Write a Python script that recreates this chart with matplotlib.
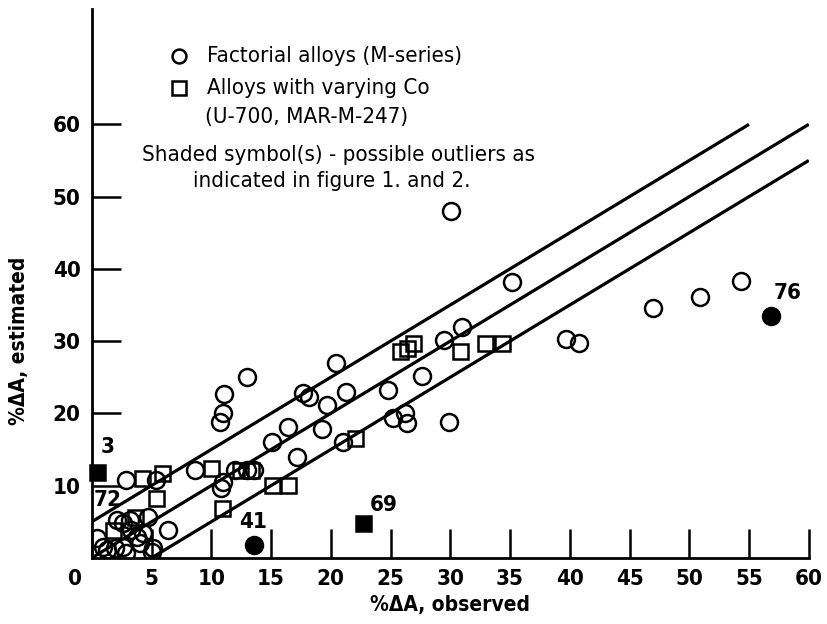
import matplotlib
matplotlib.use("Agg")
import matplotlib.pyplot as plt
from matplotlib.transforms import ScaledTranslation

plt.rcParams["font.family"] = ["DejaVu Sans"]
plt.rcParams["font.stretch"] = "condensed"

# Factorial alloys (M-series): open circles
circ_x = [30.1, 35.2, 47.0, 50.9, 54.3, 39.7, 40.8, 31.0, 29.5, 27.6, 26.2, 26.4,
          25.2, 29.9, 24.8, 20.4, 17.7, 18.2, 21.3, 19.7, 16.4, 19.3, 15.1, 21.0,
          17.2, 13.0, 11.1, 11.0, 10.7, 8.6, 12.0, 13.0, 13.6, 11.0, 10.8, 2.9,
          5.4, 6.4, 0.4, 0.9, 1.3, 2.1, 2.6, 3.3, 3.8, 4.7, 1.9, 2.6, 2.9, 4.0,
          5.1, 5.0, 4.3, 3.2]
circ_y = [48.0, 38.2, 34.6, 36.1, 38.3, 30.3, 29.7, 31.9, 30.1, 25.2, 20.0, 18.6,
          19.4, 18.8, 23.2, 27.0, 22.8, 22.2, 22.9, 21.2, 18.1, 17.9, 16.0, 16.0,
          13.9, 25.0, 22.7, 20.0, 18.8, 12.1, 12.1, 12.1, 12.1, 10.5, 9.6, 10.8,
          10.8, 3.9, 2.8, 1.5, 1.1, 5.2, 4.8, 3.9, 2.9, 5.7, 1.4, 1.5, 0.7, 2.1,
          1.4, 0.8, 3.4, 5.2]

# Alloys with varying Co: open squares
sq_x = [26.9, 25.8, 26.4, 30.8, 32.9, 34.3, 22.0, 10.0, 12.4, 13.3, 15.1, 16.4,
        10.9, 5.4, 4.2, 5.9, 1.8, 3.6]
sq_y = [29.7, 28.6, 29.1, 28.6, 29.7, 29.7, 16.6, 12.4, 12.1, 12.1, 10.1, 10.1,
        6.9, 8.3, 11.0, 11.7, 3.9, 5.7]

# shaded (possible outliers)
out_circ_x = [13.6, 56.8]
out_circ_y = [1.8, 33.5]
out_sq_x = [0.4, 22.7]
out_sq_y = [11.9, 4.8]

# point labels
lab_text = ["3", "72", "41", "69", "76"]
lab_x = [1.3, 1.3, 13.5, 24.4, 58.2]
lab_y = [15.3, 8.0, 5.0, 7.3, 36.7]

# guide lines y = x + offset
line_off = [5, 0, -5]

fig = plt.figure(figsize=(8.27, 6.24), dpi=100)
ax = fig.add_axes([0.111, 0.106, 0.867, 0.88])

for off in line_off:
    x0 = max(0, -off)
    x1 = min(60, 60 - off)
    ax.plot([x0, x1], [x0 + off, x1 + off], color="black", lw=2.3,
            solid_capstyle="butt", zorder=2)

ax.plot(circ_x, circ_y, "o", ms=12.2, mfc="none", mec="black", mew=1.8, zorder=3)
ax.plot(sq_x, sq_y, "s", ms=10.8, mfc="none", mec="black", mew=1.8, zorder=3)
ax.plot(out_circ_x, out_circ_y, "o", ms=12.2, mfc="black", mec="black", mew=1.8, zorder=4)
ax.plot(out_sq_x, out_sq_y, "s", ms=10.8, mfc="black", mec="black", mew=1.8, zorder=4,
        clip_on=False)

for t, x, y in zip(lab_text, lab_x, lab_y):
    ax.text(x, y, t, fontsize=16, fontweight="bold", ha="center", va="center")

ax.set_xlim(0, 60)
ax.set_ylim(0, 76)
ax.set_xticks(range(0, 61, 5))
ax.set_yticks(range(10, 61, 10))
ax.spines["top"].set_visible(False)
ax.spines["right"].set_visible(False)
ax.spines["left"].set_linewidth(2)
ax.spines["bottom"].set_linewidth(2)
ax.tick_params(direction="in", length=21, width=1.8, labelsize=16, pad=8)
for lab in ax.get_xticklabels() + ax.get_yticklabels():
    lab.set_fontweight("bold")
zero = ax.get_xticklabels()[0]
zero.set_transform(zero.get_transform() + ScaledTranslation(-12 / 72, 0, fig.dpi_scale_trans))

ax.set_xlabel("%\u0394A, observed", fontsize=15, fontweight="bold", labelpad=4)
ax.set_ylabel("%\u0394A, estimated", fontsize=15, fontweight="bold")
ax.yaxis.set_label_coords(-0.087, 30 / 76)

# legend block
ax.plot([7.3], [69.5], "o", ms=10, mfc="none", mec="black", mew=1.8, clip_on=False)
ax.plot([7.3], [65.0], "s", ms=10, mfc="none", mec="black", mew=1.8, clip_on=False)
ax.text(9.6, 69.5, "Factorial alloys (M-series)", fontsize=16, va="center")
ax.text(9.6, 65.0, "Alloys with varying Co", fontsize=16, va="center")
ax.text(9.5, 61.0, "(U-700, MAR-M-247)", fontsize=16, va="center")
ax.text(4.2, 55.8, "Shaded symbol(s) - possible outliers as", fontsize=16, va="center")
ax.text(8.5, 52.1, "indicated in figure 1. and 2.", fontsize=16, va="center")

fig.savefig("out.png", dpi=100)
